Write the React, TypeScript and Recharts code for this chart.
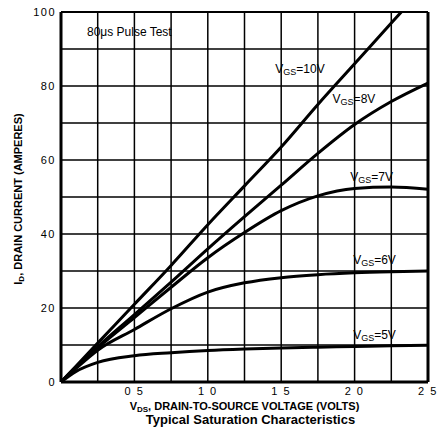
import React from "react";
import {
  LineChart,
  Line,
  XAxis,
  YAxis,
  CartesianGrid,
  ReferenceLine,
  ReferenceDot,
  Label,
} from "recharts";

// drain-to-source voltage (volts) at which each curve was read
const VDS = [0, 0.1, 0.25, 0.5, 0.75, 1.0, 1.25, 1.5, 1.75, 2.0, 2.25, 2.5];

// drain current (amperes) for each gate voltage
const ID_10V = [0, 4.2, 10.5, 21, 31.5, 42.5, 53, 63.5, 75, 86, 97, 108];
const ID_8V = [0, 3.9, 9.5, 18.2, 27.0, 36.0, 44.7, 53.2, 61.8, 69.6, 75.8, 80.8];
const ID_7V = [0, 3.8, 9.2, 17.4, 25.6, 33.6, 40.4, 46.3, 50.3, 52.3, 52.7, 52.1];
const ID_6V = [0, 3.6, 8.6, 14.2, 19.8, 24.3, 26.8, 28.2, 29.0, 29.5, 29.8, 30.0];
const ID_5V = [0, 2.8, 5.3, 7.1, 7.9, 8.5, 8.9, 9.2, 9.4, 9.6, 9.8, 9.9];

const X_TICKS = [0, 0.25, 0.5, 0.75, 1.0, 1.25, 1.5, 1.75, 2.0, 2.25, 2.5];
const X_TICK_LABELS = ["", "", "0 5", "", "1 0", "", "1 5", "", "2 0", "", "2 5"];
const Y_TICKS = [0, 10, 20, 30, 40, 50, 60, 70, 80, 90, 100];
const Y_TICK_LABELS = ["0", "", "20", "", "40", "", "60", "", "80", "", "100"];

// where the curve names sit, in data units
const CURVE_NAMES = ["10V", "8V", "7V", "6V", "5V"];
const CURVE_NAME_X = [1.46, 1.85, 1.97, 1.99, 1.99];
const CURVE_NAME_Y = [84.6, 76.5, 55.4, 33, 12.7];

const FONT = "'Liberation Sans', Arial, Helvetica, sans-serif";

const data = VDS.map((v, i) => ({
  vds: v,
  v10: ID_10V[i],
  v8: ID_8V[i],
  v7: ID_7V[i],
  v6: ID_6V[i],
  v5: ID_5V[i],
}));

const xLabel = (v: number) => X_TICK_LABELS[X_TICKS.indexOf(v)] ?? "";
const yLabel = (v: number) => Y_TICK_LABELS[Y_TICKS.indexOf(v)] ?? "";

function XAxisTitle(props: any) {
  const { x, y, width } = props.viewBox;
  const cx = x + width / 2;
  return (
    <g fontFamily={FONT} fill="#000">
      <text x={cx} y={y + 28} textAnchor="middle" fontSize={11} fontWeight="bold">
        V<tspan dy={1.5} fontSize={8}>DS</tspan>
        <tspan dy={-1.5}>, DRAIN-TO-SOURCE VOLTAGE (VOLTS)</tspan>
      </text>
      <text x={cx + 6} y={y + 42} textAnchor="middle" fontSize={13} fontWeight="bold">
        Typical Saturation Characteristics
      </text>
    </g>
  );
}

function YAxisTitle(props: any) {
  const { x, y, height } = props.viewBox;
  const tx = x + 22;
  const ty = y + height / 2 + 2;
  return (
    <text
      x={tx}
      y={ty}
      transform={`rotate(-90 ${tx} ${ty})`}
      textAnchor="middle"
      fontFamily={FONT}
      fontSize={11}
      fontWeight="bold"
      fill="#000"
    >
      I<tspan dy={2} fontSize={8}>D</tspan>
      <tspan dy={-2}>, DRAIN CURRENT (AMPERES)</tspan>
    </text>
  );
}

export default function App() {
  return (
    <div style={{ position: "absolute", left: 0, top: 0, width: 439, height: 435, background: "#fff" }}>
      <LineChart width={439} height={435} data={data} margin={{ top: 12, right: 11, bottom: 0, left: 0 }}>
        <CartesianGrid stroke="#000" strokeWidth={1.5} />
        <XAxis
          dataKey="vds"
          type="number"
          domain={[0, 2.5]}
          ticks={X_TICKS}
          interval={0}
          tickFormatter={xLabel}
          tickLine={false}
          tickSize={0}
          tickMargin={5}
          height={53}
          axisLine={{ stroke: "#000", strokeWidth: 3 }}
          tick={{ fill: "#000", fontSize: 11, fontFamily: FONT, letterSpacing: 1.5 }}
        >
          <Label content={XAxisTitle} />
        </XAxis>
        <YAxis
          type="number"
          domain={[0, 100]}
          allowDataOverflow
          ticks={Y_TICKS}
          interval={0}
          tickFormatter={yLabel}
          tickLine={false}
          tickSize={0}
          tickMargin={5}
          width={61}
          axisLine={{ stroke: "#000", strokeWidth: 3 }}
          tick={{ fill: "#000", fontSize: 11, fontFamily: FONT, letterSpacing: 1.5 }}
        >
          <Label content={YAxisTitle} />
        </YAxis>
        <ReferenceLine y={100} stroke="#000" strokeWidth={2} />
        <ReferenceLine x={2.5} stroke="#000" strokeWidth={3} />
        {["v10", "v8", "v7", "v6", "v5"].map((k) => (
          <Line
            key={k}
            type="monotone"
            dataKey={k}
            stroke="#000"
            strokeWidth={3}
            dot={false}
            isAnimationActive={false}
          />
        ))}
        <ReferenceDot
          x={0.177}
          y={94.6}
          r={0}
          shape={(p: any) => (
            <text x={p.cx} y={p.cy} dy="0.35em" fontFamily={FONT} fontSize={12} fill="#000">
              80μs Pulse Test
            </text>
          )}
        />
        {CURVE_NAMES.map((name, i) => (
          <ReferenceDot
            key={name}
            x={CURVE_NAME_X[i]}
            y={CURVE_NAME_Y[i]}
            r={0}
            shape={(p: any) => (
              <text x={p.cx} y={p.cy} dy="0.35em" fontFamily={FONT} fontSize={12} fill="#000">
                V<tspan dy={2} fontSize={9}>GS</tspan>
                <tspan dy={-2}>={name}</tspan>
              </text>
            )}
          />
        ))}
      </LineChart>
    </div>
  );
}
